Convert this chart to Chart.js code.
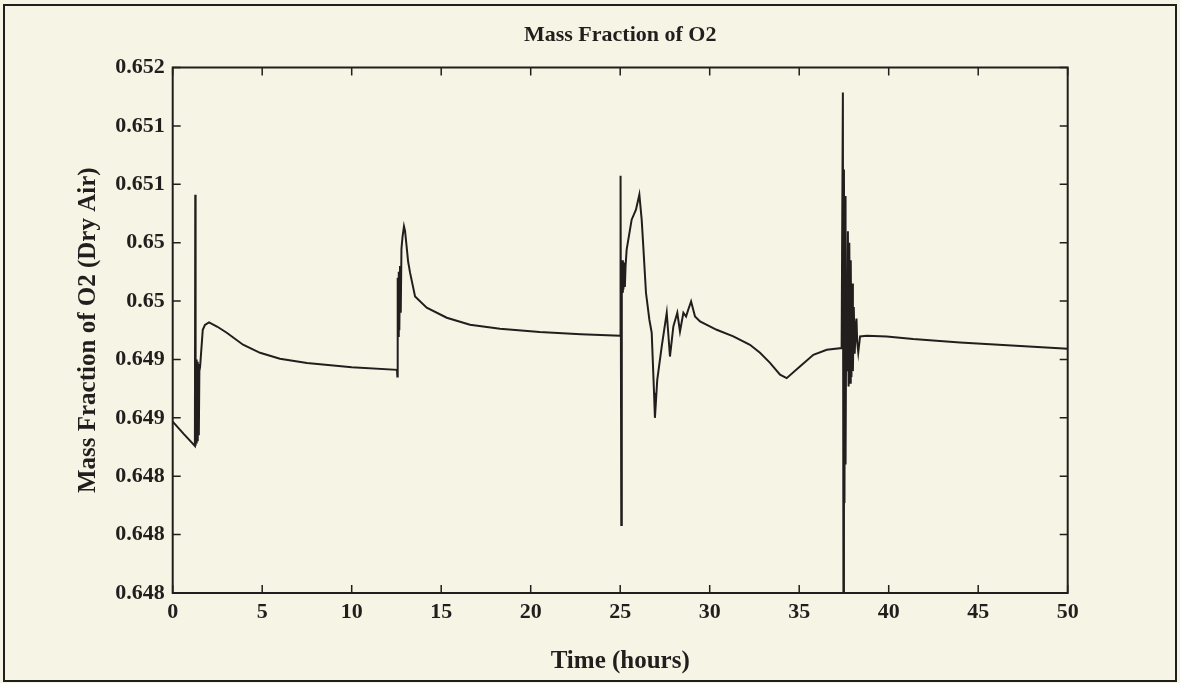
<!DOCTYPE html>
<html>
<head>
<meta charset="utf-8">
<title>Mass Fraction of O2</title>
<script src="https://cdn.jsdelivr.net/npm/chart.js@4.4.1/dist/chart.umd.min.js"></script>
<style>
  html, body { margin: 0; padding: 0; background: #f6f4e5; overflow: hidden; }
  canvas { display: block; }
</style>
</head>
<body>
<canvas id="o2Chart" width="1180" height="683"></canvas>
<script>
// time axis (hours) and O2 mass fraction of dry air
const timeHours = [
    0, 0.6, 1.24,
    1.26, 1.28, 1.31, 1.34, 1.37, 1.40, 1.43, 1.46, 1.49,
    1.53, 1.68, 1.8, 2.03, 2.5, 3.02, 3.93, 4.88, 5.99, 7.5, 10, 12.53,
    12.55, 12.57, 12.60, 12.63, 12.66, 12.70, 12.74, 12.78, 12.84, 12.92, 12.98, 13.06, 13.15,
    13.26, 13.54, 14.19, 15.31, 16.61, 18.28, 20.5, 22.8, 25.0,
    25.02, 25.06, 25.09, 25.12, 25.15, 25.18, 25.22, 25.26, 25.30,
    25.36, 25.64, 25.88, 26.07, 26.20, 26.29, 26.44, 26.63, 26.76, 26.89, 26.94,
    27.07, 27.32, 27.60, 27.78, 27.97, 28.19, 28.34, 28.53, 28.68, 28.80, 28.96, 29.18, 29.46,
    30.39, 31.32, 32.25, 32.81, 33.37, 33.93, 34.30, 35.04, 35.79, 36.54, 37.37,
    37.44, 37.47, 37.50, 37.53, 37.56, 37.59, 37.62, 37.66,
    37.72, 37.76, 37.80, 37.84, 37.88, 37.92, 37.96, 38.00, 38.05, 38.10, 38.16, 38.20, 38.24, 38.30,
    38.40, 38.77, 39.89, 41.36, 43.98, 50
];
const massFraction = [
    0.648968, 0.648865, 0.648760,
    0.650911, 0.648760, 0.649500, 0.648780, 0.649480, 0.648800, 0.649460, 0.648850, 0.649400,
    0.649437, 0.649754, 0.649795, 0.649817, 0.649780, 0.649729, 0.649626, 0.649557, 0.649506, 0.649470, 0.649433, 0.649411,
    0.649354, 0.650200, 0.649700, 0.650250, 0.649750, 0.650300, 0.649900, 0.650450, 0.650550, 0.650640, 0.650600, 0.650480, 0.650340,
    0.650243, 0.650040, 0.649943, 0.649857, 0.649797, 0.649763, 0.649735, 0.649715, 0.649703,
    0.651074, 0.648083, 0.650350, 0.650080, 0.650350, 0.650100, 0.650330, 0.650120, 0.650300,
    0.650440, 0.650697, 0.650783, 0.650911, 0.650697, 0.650468, 0.650071, 0.649840, 0.649729, 0.649214, 0.649000,
    0.649326, 0.649611, 0.649900, 0.649525, 0.649783, 0.649900, 0.649740, 0.649900, 0.649868, 0.649926, 0.649997, 0.649868, 0.649825,
    0.649754, 0.649697, 0.649626, 0.649557, 0.649471, 0.649369, 0.649340, 0.649440, 0.649540, 0.649583, 0.649597,
    0.651786, 0.647500, 0.651126, 0.648271, 0.650900, 0.648600, 0.649650, 0.649400,
    0.650597, 0.649268, 0.650500, 0.649300, 0.650350, 0.649350, 0.650150, 0.649400, 0.649950, 0.649550, 0.649800, 0.649850, 0.649650, 0.649560,
    0.649697, 0.649703, 0.649697, 0.649675, 0.649645, 0.649591
];

const xTicks = [0, 5, 10, 15, 20, 25, 30, 35, 40, 45, 50];
const yTicks = [0.6475, 0.648, 0.6485, 0.649, 0.6495, 0.65, 0.6505, 0.651, 0.6515, 0.652];
const yTickLabels = ['0.648', '0.648', '0.648', '0.649', '0.649', '0.65', '0.65', '0.651', '0.651', '0.652'];

const INK = '#221e1d';
const PAPER = '#f6f4e5';
const SERIF = "'Liberation Serif', 'Times New Roman', serif";

Chart.defaults.font.family = SERIF;
Chart.defaults.color = INK;

// paper background, outer figure border, axes box and inward tick marks
const figureFrame = {
    id: 'figureFrame',
    beforeDraw(chart) {
        const ctx = chart.ctx;
        ctx.save();
        ctx.fillStyle = PAPER;
        ctx.fillRect(0, 0, chart.width, chart.height);
        ctx.restore();
    },
    afterDraw(chart) {
        const { ctx, chartArea: a, scales: { x, y } } = chart;
        const tick = 8;
        ctx.save();
        ctx.strokeStyle = INK;
        ctx.lineWidth = 2;
        ctx.strokeRect(4, 5, chart.width - 8, chart.height - 7);
        ctx.strokeRect(a.left, a.top, a.right - a.left, a.bottom - a.top);

        ctx.lineWidth = 1.5;
        ctx.beginPath();
        x.ticks.forEach(t => {
            const px = x.getPixelForValue(t.value);
            ctx.moveTo(px, a.bottom); ctx.lineTo(px, a.bottom - tick);
            ctx.moveTo(px, a.top);    ctx.lineTo(px, a.top + tick);
        });
        y.ticks.forEach(t => {
            const py = y.getPixelForValue(t.value);
            ctx.moveTo(a.left, py);  ctx.lineTo(a.left + tick, py);
            ctx.moveTo(a.right, py); ctx.lineTo(a.right - tick, py);
        });
        ctx.stroke();
        ctx.restore();
    }
};

new Chart(document.getElementById('o2Chart').getContext('2d'), {
    type: 'line',
    data: {
        datasets: [{
            label: 'O2',
            data: timeHours.map((t, i) => ({ x: t, y: massFraction[i] })),
            borderColor: INK,
            borderWidth: 2,
            pointRadius: 0,
            tension: 0,
            fill: false
        }]
    },
    options: {
        responsive: false,
        animation: false,
        layout: { padding: { left: 0, right: 112.3, top: 0, bottom: 0 } },
        plugins: {
            legend: { display: false },
            tooltip: { enabled: false },
            title: {
                display: true,
                fullSize: false,   // centre over the plot box, not the whole canvas
                text: 'Mass Fraction of O2',
                color: INK,
                font: { size: 22, weight: 'bold', lineHeight: 1.2 },
                padding: { top: 22, bottom: 19.1 }
            }
        },
        scales: {
            x: {
                type: 'linear',
                min: 0,
                max: 50,
                afterBuildTicks: s => { s.ticks = xTicks.map(v => ({ value: v })); },
                afterFit: s => { s.height = 90; },
                grid: { display: false, drawTicks: false },
                border: { display: false },
                ticks: {
                    padding: 6,
                    autoSkip: false,
                    maxRotation: 0,
                    color: INK,
                    font: { size: 22, weight: 'bold' },
                    callback: v => String(v)
                },
                title: {
                    display: true,
                    text: 'Time (hours)',
                    color: INK,
                    font: { size: 25, weight: 'bold', lineHeight: 1 },
                    padding: { top: 0, bottom: 8.5 }
                }
            },
            y: {
                type: 'linear',
                min: 0.6475,
                max: 0.652,
                afterBuildTicks: s => { s.ticks = yTicks.map(v => ({ value: v })); },
                afterFit: s => { s.width = 172.7; },
                grid: { display: false, drawTicks: false },
                border: { display: false },
                ticks: {
                    padding: 8,
                    autoSkip: false,
                    color: INK,
                    font: { size: 22, weight: 'bold' },
                    callback: (v, i) => yTickLabels[i]
                },
                title: {
                    display: true,
                    text: 'Mass Fraction of O2 (Dry Air)',
                    color: INK,
                    font: { size: 25, weight: 'bold', lineHeight: 1 },
                    padding: { top: 76, bottom: 0 }
                }
            }
        }
    },
    plugins: [figureFrame]
});
</script>
</body>
</html>
